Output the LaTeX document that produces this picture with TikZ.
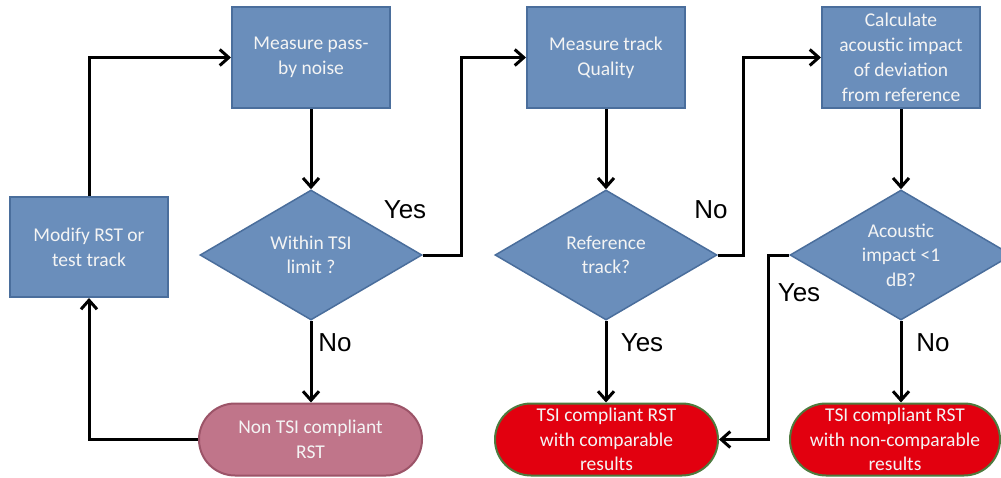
\documentclass[tikz,border=0pt]{standalone}
\usepackage{fontspec}
\setmainfont{Carlito}
\newfontfamily\labfont{Liberation Sans}
\usetikzlibrary{shapes.geometric,arrows.meta}
\definecolor{boxblue}{HTML}{6A8EBB}
\definecolor{boxedge}{HTML}{4A6E9C}
\definecolor{pinkfill}{HTML}{C0758A}
\definecolor{pinkedge}{HTML}{9C5468}
\definecolor{redfill}{HTML}{E2000F}
\definecolor{greenedge}{HTML}{4E7A3E}
\definecolor{txtwhite}{HTML}{F4F4F4}
\tikzset{
  procbox/.style={rectangle, draw=boxedge, fill=boxblue, line width=2pt, minimum width=158pt, minimum height=101pt, inner sep=0pt, align=center, text=txtwhite, font=\fontsize{19.5}{25}\selectfont},
  decbox/.style={diamond, draw=boxedge, fill=boxblue, line width=1.5pt, minimum width=222pt, minimum height=130pt, inner sep=0pt},
  dectext/.style={align=center, text=txtwhite, font=\fontsize{19.5}{24.5}\selectfont, inner sep=0pt},
  termpink/.style={rectangle, rounded corners=36pt, draw=pinkedge, fill=pinkfill, line width=2pt, minimum width=223pt, minimum height=72pt, inner sep=0pt, align=center, text=txtwhite, font=\fontsize{19.5}{24.5}\selectfont},
  termred/.style={rectangle, rounded corners=36pt, draw=greenedge, fill=redfill, line width=2pt, minimum height=72pt, inner sep=0pt, align=center, text=txtwhite, font=\fontsize{19.5}{24.5}\selectfont},
  conn/.style={line width=3pt, -{Straight Barb[length=9pt,width=16pt,line width=3pt]}},
  lab/.style={font=\labfont\fontsize{26}{30}\selectfont, inner sep=0pt}
}
\begin{document}
\begin{tikzpicture}[x=1pt,y=-1pt]
\useasboundingbox (0,0) rectangle (1001,477);
\clip (0,0) rectangle (1001,477);
\fill[white] (0,0) rectangle (1001,477);
% process boxes
\node[procbox] (mpn) at (311,57.5) {Measure pass-\\by noise};
\node[procbox] (mtq) at (606,57.5) {Measure track\\Quality};
\node[procbox] (calc) at (901,57.5) {Calculate\\acoustic impact\\of deviation\\from reference};
\node[procbox, minimum height=100pt] (mod) at (89,247) {Modify RST or\\test track};
% decisions
\node[decbox] (d1) at (311,255) {};
\node[dectext] (d1t) at (311,255) {Within TSI\\limit ?};
\node[decbox] (d2) at (606,255) {};
\node[dectext] (d2t) at (606,255) {Reference\\track?};
\node[decbox] (d3) at (901,255) {};
\node[dectext] (d3t) at (901,255) {Acoustic\\impact <1\\dB?};
% terminals
\node[termpink] (t1) at (310.5,439.5) {Non TSI compliant\\RST};
\node[termred, minimum width=223pt] (t2) at (606.5,439.5) {TSI compliant RST\\with comparable\\results};
\node[termred, minimum width=210pt] (t3) at (895,439.5) {TSI compliant RST\\with non-comparable\\results};
% connectors
\draw[conn] (mod.north) -- (89,57.5) -- (mpn.west);
\draw[conn] (mpn.south) -- (d1.north);
\draw[conn] (d1.east) -- (461.5,255) -- (461.5,57.5) -- (mtq.west);
\draw[conn] (d1.south) -- (t1.north -| d1.south);
\draw[conn] (t1.west) -- (89,439.5) -- (mod.south);
\draw[conn] (mtq.south) -- (d2.north);
\draw[conn] (d2.east) -- (743.5,255) -- (743.5,57.5) -- (calc.west);
\draw[conn] (d2.south) -- (t2.north -| d2.south);
\draw[conn] (calc.south) -- (d3.north);
\draw[conn] (d3.west) -- (768.5,255) -- (768.5,439.5) -- (t2.east);
\draw[conn] (d3.south) -- (t3.north -| d3.south);
% labels
\node[lab] (y1) at (405,210) {Yes};
\node[lab] (n1) at (335,343) {No};
\node[lab] (n2) at (711,210) {No};
\node[lab] (y2) at (642,343) {Yes};
\node[lab] (y3) at (799,293) {Yes};
\node[lab] (n3) at (933,343) {No};
\end{tikzpicture}
\end{document}
